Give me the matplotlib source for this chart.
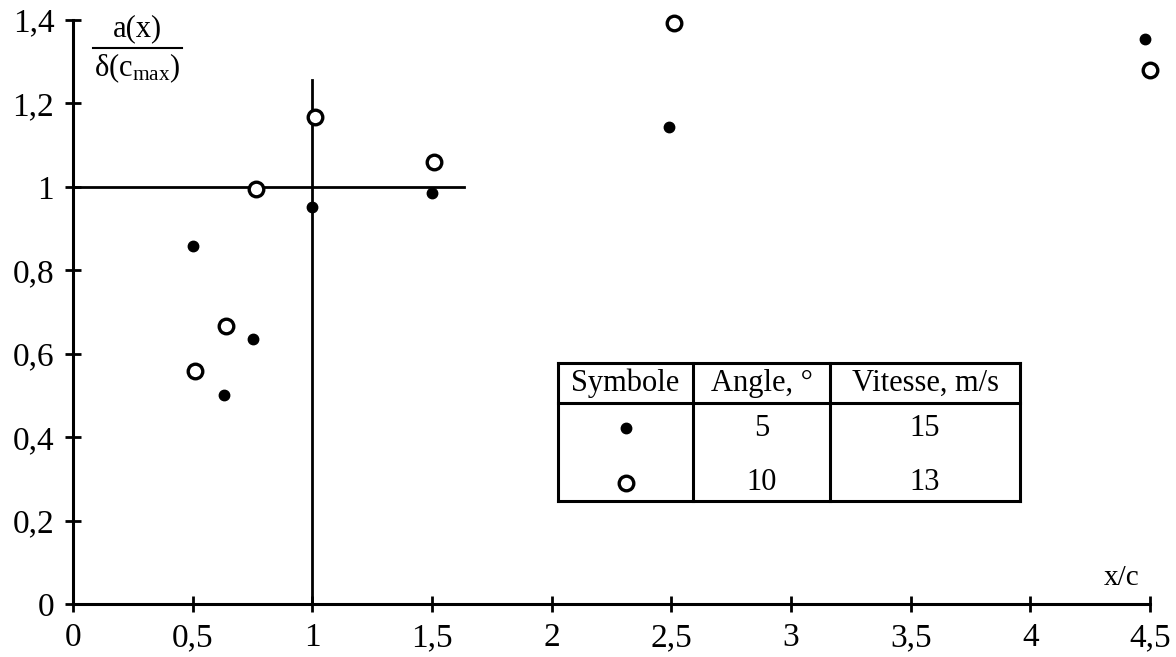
import matplotlib
matplotlib.use("Agg")
import matplotlib.pyplot as plt
from matplotlib.lines import Line2D

plt.rcParams['font.family'] = ['Liberation Serif', 'DejaVu Serif']
plt.rcParams['mathtext.fontset'] = 'custom'
plt.rcParams['mathtext.rm'] = 'Liberation Serif'
plt.rcParams['mathtext.it'] = 'Liberation Serif:italic'

# Data
x_filled = [0.50, 0.63, 0.75, 1.00, 1.50, 2.49, 4.48]
y_filled = [0.858, 0.501, 0.635, 0.952, 0.986, 1.144, 1.355]
x_open = [0.51, 0.64, 0.765, 1.01, 1.51, 2.51, 4.50]
y_open = [0.559, 0.667, 0.995, 1.168, 1.060, 1.393, 1.280]

x_ticks = [0, 0.5, 1, 1.5, 2, 2.5, 3, 3.5, 4, 4.5]
x_labels = ['0', '0,5', '1', '1,5', '2', '2,5', '3', '3,5', '4', '4,5']
y_ticks = [0, 0.2, 0.4, 0.6, 0.8, 1.0, 1.2, 1.4]
y_labels = ['0', '0,2', '0,4', '0,6', '0,8', '1', '1,2', '1,4']

ref_h_y, ref_h_xmax = 1.0, 1.634
ref_v_x, ref_v_ymax = 1.0, 1.257

table_header = ['Symbole', 'Angle, °', 'Vitesse, m/s']
table_angles = ['5', '10']
table_speeds = ['15', '13']

fig = plt.figure(figsize=(11.76, 6.57), dpi=100)
ax = fig.add_axes([73/1176, 53/657, 1077/1176, 584/657])

ax.set_xlim(0, 4.5)
ax.set_ylim(0, 1.4)

for s in ['top', 'right']:
    ax.spines[s].set_visible(False)
for s in ['left', 'bottom']:
    ax.spines[s].set_linewidth(2.2)

ax.set_xticks(x_ticks)
ax.set_xticklabels(x_labels)
ax.set_yticks(y_ticks)
ax.set_yticklabels(y_labels)
ax.tick_params(direction='inout', length=11, width=2, labelsize=24)
ax.tick_params(axis='x', pad=8)
ax.tick_params(axis='y', pad=8)

# Reference lines
ax.plot([0, ref_h_xmax], [ref_h_y, ref_h_y], color='black', lw=2, clip_on=False)
ax.plot([ref_v_x, ref_v_x], [0, ref_v_ymax], color='black', lw=2, clip_on=False)

ax.plot(x_filled, y_filled, 'o', color='black', markersize=7.5, clip_on=False, zorder=5)
ax.plot(x_open, y_open, 'o', markerfacecolor='white', markeredgecolor='black',
        markersize=10.5, markeredgewidth=2.4, clip_on=False, zorder=5)

# y label fraction
tr = ax.transAxes
ax.text((137-73)/1077, (604-29)/584, 'a(x)', transform=tr, ha='center', va='center', fontsize=22)
ax.add_line(Line2D([(93-73)/1077, (182-73)/1077], [(604-48)/584]*2, transform=tr,
                   color='black', lw=1.5, clip_on=False))
ax.text((137-73)/1077, (604-68)/584, 'δ(c$_{\\rm max}$)', transform=tr, ha='center', va='center', fontsize=22)

ax.text((1122-73)/1077, (604-578)/584, 'x/c', transform=tr, ha='center', va='center', fontsize=21)

# Table
xs = [(p-73)/1077 for p in (558, 693, 830, 1020)]
ys = [(604-p)/584 for p in (363, 403, 501)]
lw = 2.2
for yv in ys:
    ax.add_line(Line2D([xs[0], xs[-1]], [yv, yv], transform=tr, color='black', lw=lw, clip_on=False))
for xv in xs:
    ax.add_line(Line2D([xv, xv], [ys[0], ys[-1]], transform=tr, color='black', lw=lw, clip_on=False))
centers = [(xs[i]+xs[i+1])/2 for i in range(3)]
yh = (ys[0]+ys[1])/2
for c, t in zip(centers, table_header):
    ax.text(c, yh, t, transform=tr, ha='center', va='center', fontsize=22)
row_y = [(604-428)/584, (604-483)/584]
ax.plot([centers[0]], [row_y[0]], 'o', color='black', markersize=7.5, transform=tr, clip_on=False)
ax.plot([centers[0]], [row_y[1]], 'o', markerfacecolor='white', markeredgecolor='black',
        markersize=10.5, markeredgewidth=2.4, transform=tr, clip_on=False)
for ry, a, v in zip(row_y, table_angles, table_speeds):
    ax.text(centers[1], ry, a, transform=tr, ha='center', va='center', fontsize=22)
    ax.text(centers[2], ry, v, transform=tr, ha='center', va='center', fontsize=22)

fig.savefig('out.png', dpi=100)
